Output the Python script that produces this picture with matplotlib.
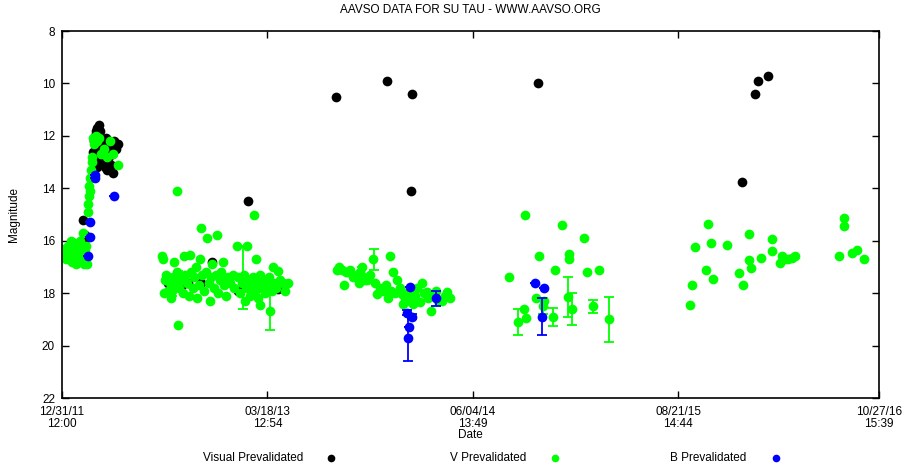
import numpy as np
import matplotlib.pyplot as plt
from matplotlib.lines import Line2D

# days since 12/31/11 12:00, magnitudes
vis_day = [0, 45, 48, 50, 66, 68, 70, 70, 72, 74, 75, 76, 78, 80, 82, 84, 86, 88, 90, 92,
           94, 96, 98, 100, 102, 105, 108, 110, 112, 116, 120,
           229, 238, 258, 272, 300, 324, 380, 401, 466,
           591, 701, 755, 753,
           1027,
           1467, 1495, 1501, 1523]
vis_mag = [16.4, 15.2, 16.0, 15.8, 12.6, 12.2, 12.9, 13.5, 12.0, 11.8, 13.2, 11.7, 12.4, 11.6, 11.8,
           12.5, 13.0, 12.3, 12.8, 13.2, 12.1, 12.6, 13.3, 12.9, 12.4, 13.1, 12.7, 13.4, 12.2, 12.5, 12.3,
           17.6, 17.55, 17.7, 17.6, 17.6, 16.8, 17.9, 14.5, 17.85,
           10.5, 9.9, 10.4, 14.1,
           10.0,
           13.75, 10.4, 9.9, 9.7]

v_day = [2, 4, 6, 8, 9, 12, 15, 17, 19, 22, 24, 26, 28, 30, 32, 35, 37, 39, 41, 43, 45, 47, 50, 52, 54,
         56, 57, 58, 59, 60, 61, 62, 64, 65, 67, 70, 73, 76, 80, 84, 90, 98, 104, 110, 120,
         216, 218, 219, 222, 225, 228, 232, 236, 237, 240, 242, 244, 248, 248, 250, 252, 256, 260,
         264, 266, 270, 274, 276, 278, 282, 285, 288, 292, 296, 298, 300, 302, 306, 310, 313, 316,
         320, 322, 324, 328, 332, 334, 336, 340, 344, 348, 350, 354, 358, 362, 368, 372, 378, 380,
         384, 388, 392, 395, 398, 399, 402, 405, 408, 411, 414, 416, 418, 420, 423, 426, 427, 430,
         434, 438, 442, 446, 449, 452, 455, 458, 462, 466, 470, 476, 482, 488,
         593, 598, 604, 608, 612, 617, 622, 628, 636, 640, 643, 646, 649, 654, 658, 664, 671, 676,
         680, 686, 692, 698, 704, 707, 710, 714, 718, 723, 728, 733, 736, 740, 744, 748, 752, 758,
         762, 766, 772, 777, 780, 787, 790, 795, 800, 806, 812, 820, 826, 830, 836,
         964, 984, 997, 999, 1001, 1022, 1029, 1037, 1040, 1059, 1063, 1079, 1091, 1094, 1094,
         1100, 1126, 1132, 1145, 1158, 1180,
         1355, 1359, 1365, 1389, 1393, 1400, 1404, 1434, 1460, 1469, 1482, 1482, 1486, 1508, 1531,
         1531, 1549, 1553, 1560, 1566, 1574, 1581, 1676, 1687, 1687, 1704, 1715, 1730]
v_mag = [16.3, 16.5, 16.4, 16.6, 16.7, 16.2, 16.5, 16.6, 16.0, 16.8, 16.4, 16.1, 16.2, 16.9, 16.6,
         16.8, 16.3, 16.0, 16.5, 16.7, 15.7, 16.9, 16.4, 16.2, 16.9,
         14.6, 14.9, 14.3, 13.9, 14.1, 13.6, 13.3, 13.0, 12.8, 12.1, 12.3, 12.0, 12.2, 12.1, 12.7,
         12.5, 12.8, 12.2, 12.7, 13.1,
         16.6, 16.7, 18.0, 17.5, 17.3, 17.9, 17.6, 18.2, 17.9, 17.4, 16.8, 17.7, 14.1, 17.2, 19.2,
         17.8, 17.5, 18.0, 16.6, 17.3, 17.6, 18.1, 16.55, 17.2, 17.8, 17.4, 17.0, 18.2, 17.7, 16.7,
         15.5, 17.3, 17.9, 17.2, 15.9, 17.6, 18.3, 17.4, 16.9, 17.8, 17.3, 15.8, 18.0, 17.5, 17.2,
         16.8, 17.7, 18.1, 17.4, 17.6, 17.3, 17.8, 16.2, 17.4, 18.0, 17.6, 17.3, 18.3, 17.8, 16.2,
         17.5, 18.1, 17.7, 17.4, 15.0, 17.9, 16.7, 17.6, 18.2, 17.3, 18.45, 17.8, 17.5, 18.0, 17.7,
         17.4, 18.7, 17.9, 17.0, 17.6, 17.8, 17.15, 17.5, 17.6, 17.9, 17.6,
         17.1, 17.0, 17.1, 17.7, 17.2, 17.2, 17.1, 17.4, 17.3, 17.6, 17.2, 17.0, 17.4, 17.5, 17.5,
         17.3, 16.7, 17.6, 18.05, 17.8, 17.9, 17.7, 18.2, 16.6, 17.9, 17.2, 18.0, 17.5, 17.8, 18.05,
         18.4, 18.2, 18.0, 18.3, 17.9, 18.4, 18.1, 17.8, 18.35, 17.6, 18.0, 17.95, 18.2, 18.7, 18.1,
         17.9, 18.3, 18.3, 18.1, 17.95, 18.2,
         17.4, 19.1, 18.6, 15.0, 18.95, 18.2, 16.6, 18.5, 18.3, 18.9, 17.1, 15.4, 18.15, 16.5, 16.7,
         18.6, 15.9, 17.2, 18.5, 17.1, 19.0,
         18.45, 17.7, 16.25, 17.1, 15.35, 16.1, 17.45, 16.15, 17.25, 17.7, 15.75, 16.75, 17.05, 16.65,
         15.95, 16.4, 16.85, 16.6, 16.7, 16.7, 16.65, 16.6, 16.6, 15.15, 15.45, 16.45, 16.35, 16.7]

# V points with visible error bars
v_err_day = [237, 390, 449, 250, 673, 646, 984, 1059, 1091, 1100, 1145, 1180, 1037]
v_err_mag = [17.9, 17.4, 18.7, 17.3, 16.7, 17.3, 19.1, 18.9, 18.15, 18.6, 18.5, 19.0, 18.5]
v_err = [0.2, 1.2, 0.7, 0.15, 0.4, 0.3, 0.5, 0.35, 0.75, 0.6, 0.25, 0.85, 0.3]

b_day = [56, 60, 60, 71, 72, 112, 744, 746, 748, 751, 755, 807, 1020, 1035, 1040]
b_mag = [16.6, 15.85, 15.3, 13.6, 13.5, 14.3, 18.75, 19.7, 19.3, 17.75, 18.9, 18.2, 17.6, 18.9, 17.8]
b_err = [0, 0, 0, 0, 0, 0, 0.1, 0.88, 0, 0, 0.1, 0.3, 0, 0.7, 0]

tick_days = [0, 443.04, 886.08, 1329.11, 1762.15]
tick_labels = ['12/31/11\n12:00', '03/18/13\n12:54', '06/04/14\n13:49',
               '08/21/15\n14:44', '10/27/16\n15:39']

plt.rcParams['font.family'] = ['Liberation Sans', 'DejaVu Sans']

fig = plt.figure(figsize=(9.13, 4.69), dpi=100)
ax = fig.add_axes([62 / 913, 1 - 398 / 469, 817 / 913, 367 / 469])

ms = 7
ax.plot(vis_day, vis_mag, 'o', color='#000000', ms=ms, mec='none')
ax.errorbar(v_err_day, v_err_mag, yerr=v_err, fmt='none', ecolor='#00ff00',
            elinewidth=1.3, capsize=3.5, capthick=1.3)
ax.plot(v_day, v_mag, 'o', color='#00ff00', ms=ms, mec='none')
ax.errorbar(b_day, b_mag, yerr=b_err, fmt='o', color='#0000ff', ms=ms, mec='none',
            ecolor='#0000ff', elinewidth=1.3, capsize=3.5, capthick=1.3)

ax.set_xlim(0, 1762.15)
ax.set_ylim(22, 8)
ax.set_yticks(np.arange(8, 23, 2))
ax.set_xticks(tick_days)
ax.set_xticklabels(tick_labels, linespacing=1.0)
ax.tick_params(direction='in', length=5, width=1, top=True, right=True, labelsize=8.5)
ax.tick_params(axis='x', pad=6)
ax.tick_params(axis='y', pad=5)
for s in ax.spines.values():
    s.set_linewidth(1.2)

fig.text(470 / 913, 1 - 10 / 469, 'AAVSO DATA FOR SU TAU - WWW.AAVSO.ORG',
         ha='center', va='center', fontsize=8.5)
fig.text(14 / 913, 1 - 214 / 469, 'Magnitude', rotation=90, ha='center', va='center', fontsize=8.5)
fig.text(470 / 913, 1 - 435 / 469, 'Date', ha='center', va='center', fontsize=8.5)

# legend row at the bottom
legend = [('Visual Prevalidated', '#000000', 303, 331),
          ('V Prevalidated', '#00ff00', 526, 555),
          ('B Prevalidated', '#0000ff', 746, 776)]
for label, col, tx, mx in legend:
    fig.text(tx / 913, 1 - 458 / 469, label, ha='right', va='center', fontsize=8.5)
    fig.add_artist(Line2D([mx / 913], [1 - 458 / 469], marker='o', color=col, ms=5.5,
                          mec='none', transform=fig.transFigure))

fig.savefig('out.png', dpi=100)
